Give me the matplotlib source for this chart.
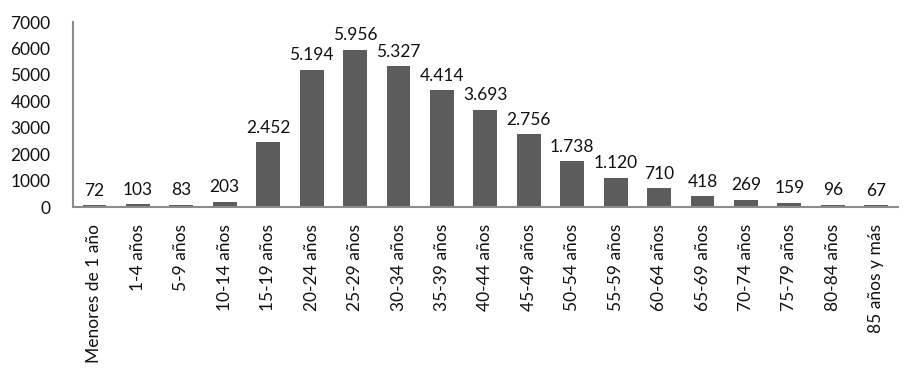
import numpy as np
from matplotlib import pyplot as plt

grupos = ['Menores de 1 año', '1-4 años', '5-9 años', '10-14 años', '15-19 años',
          '20-24 años', '25-29 años', '30-34 años', '35-39 años', '40-44 años',
          '45-49 años', '50-54 años', '55-59 años', '60-64 años', '65-69 años',
          '70-74 años', '75-79 años', '80-84 años', '85 años y más']
casos = [72, 103, 83, 203, 2452, 5194, 5956, 5327, 4414, 3693,
         2756, 1738, 1120, 710, 418, 269, 159, 96, 67]
yticks = [0, 1000, 2000, 3000, 4000, 5000, 6000, 7000]

plt.rcParams['font.family'] = ['Lato', 'DejaVu Sans']
fs = 12.5

fig = plt.figure(figsize=(9.21, 3.88), dpi=100)
ax = fig.add_axes([0.079, 0.466, 0.896, 0.477])
x = np.arange(len(grupos))
ax.bar(x, casos, width=0.55, color='#5c5c5c')
# etiquetas de datos con punto como separador de miles
for xi, v in zip(x, casos):
    ax.text(xi, v + 250, f'{v:,}'.replace(',', '.'), ha='center', va='bottom',
            fontsize=fs, color='#111111')
ax.set_xlim(-0.5, len(grupos) - 0.5)
ax.set_ylim(0, 7000)
ax.set_yticks(yticks)
ax.set_yticklabels([str(t) for t in yticks], fontsize=fs, color='#111111')
ax.set_xticks(x)
ax.set_xticklabels(grupos, rotation=90, fontsize=fs, color='#111111')
ax.tick_params(axis='x', length=0, pad=12)
ax.tick_params(axis='y', length=0, pad=16)
for s in ['top', 'right']:
    ax.spines[s].set_visible(False)
for s in ['left', 'bottom']:
    ax.spines[s].set_color('#8c8c8c')
    ax.spines[s].set_linewidth(1.5)
fig.savefig('out.png', dpi=100)
